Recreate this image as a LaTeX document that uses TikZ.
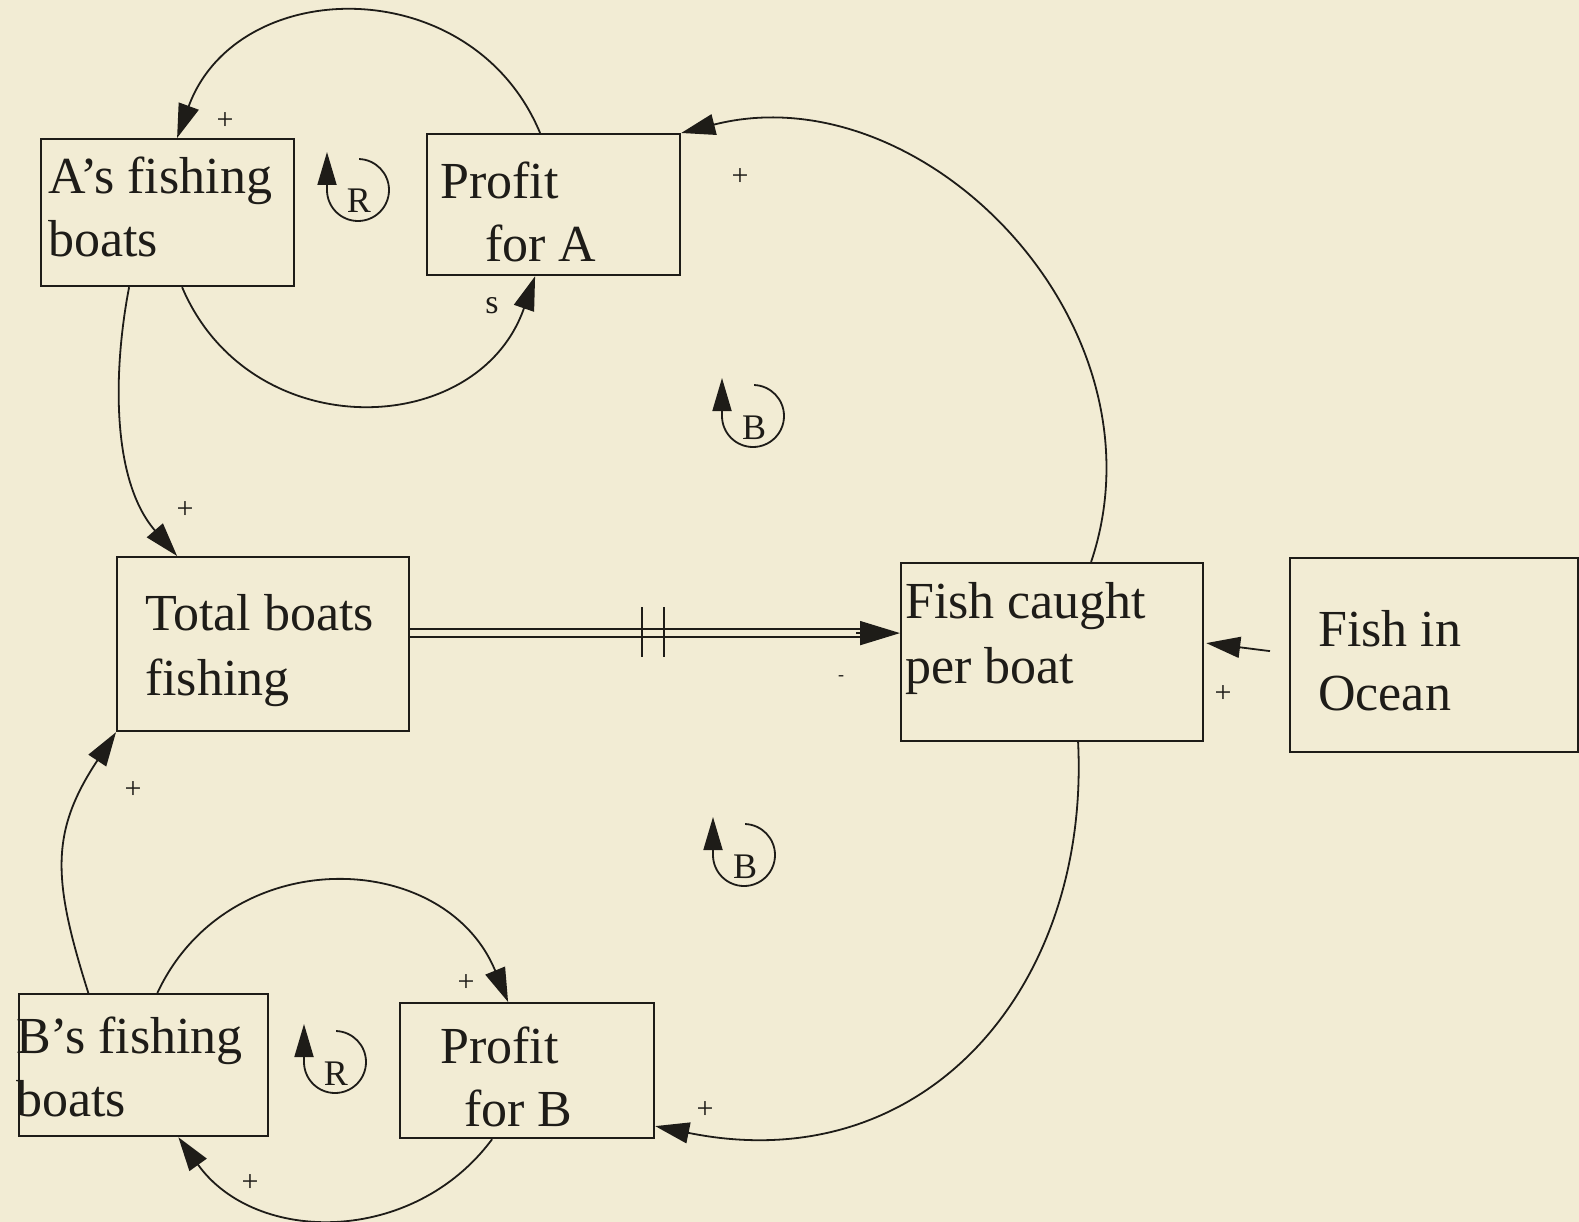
\documentclass[tikz,border=0pt]{standalone}
\usepackage{fontspec}
\setmainfont{Liberation Serif}
\usetikzlibrary{arrows.meta}
\definecolor{paper}{RGB}{242,236,212}
\definecolor{ink}{RGB}{30,28,24}
\begin{document}
\begin{tikzpicture}[x=1pt,y=-1pt,
  box/.style={draw=ink, line width=2.2pt, inner sep=0pt, anchor=north west},
  txt/.style={anchor=north west, inner sep=0pt, align=left, text=ink, font=\fontsize{52}{63.5}\selectfont},
  txtw/.style={txt, font=\fontsize{52}{65}\selectfont},
  conn/.style={draw=ink, line width=1.8pt, -{Triangle[length=34pt,width=21pt]}},
  pol/.style={text=ink, font=\fontsize{30}{30}\selectfont, inner sep=0pt},
  looplbl/.style={text=ink, font=\fontsize{36}{36}\selectfont, inner sep=0pt},
  loopsym/.pic={
    \draw[ink, line width=1.8pt] (-31,0) arc[start angle=180, end angle=-88, radius=31];
    \draw[ink, line width=1.8pt, -{Triangle[length=33pt,width=19pt]}] (-31,1) -- (-31,-38);
    \node[looplbl, anchor=base] (lbl) at (1,23) {#1};
  }
]
\fill[paper] (0,0) rectangle (1579,1222);
\useasboundingbox (0,0) rectangle (1579,1222);

% boxes
\node[box, minimum width=253pt, minimum height=147pt] (ab) at (40,138) {};
\node[box, minimum width=253pt, minimum height=141pt] (pa) at (426,133) {};
\node[box, minimum width=292pt, minimum height=174pt] (tb) at (116,556) {};
\node[box, minimum width=302pt, minimum height=178pt] (fc) at (900,562) {};
\node[box, minimum width=288pt, minimum height=194pt] (fo) at (1289,557) {};
\node[box, minimum width=248.5pt, minimum height=142pt] (bb) at (18,993) {};
\node[box, minimum width=254pt, minimum height=135pt] (pb) at (399,1002) {};

% texts
\node[txt] (abt) at (48,156.5) {A’s fishing\\boats};
\node[txt] (pat) at (440,161.5) {Profit\\\hspace*{45pt}for A};
\node[txtw] (tbt) at (145,594.5) {Total boats\\fishing};
\node[txtw] (fct) at (905,582.5) {Fish caught\\per boat};
\node[txt] (fot) at (1318,610.5) {Fish in\\Ocean};
\node[txt] (bbt) at (16,1016.5) {B’s fishing\\boats};
\node[txt] (pbt) at (440,1026.5) {Profit\\\hspace*{24pt}for B};

% connectors
\draw[conn] ([xshift=-13.5pt]pa.north) .. controls +(-68,-163) and +(60,-164) .. ([xshift=9.5pt]ab.north);
\draw[conn] ([xshift=14.5pt]ab.south) .. controls +(68,160) and +(-57,164) .. ([xshift=-18.5pt]pa.south);
\draw[conn] ([xshift=-38.5pt]ab.south) .. controls +(-16,83) and +(-66,-76) .. ([xshift=-86pt]tb.north);
\draw[ink, line width=2pt, double=paper, double distance=6pt, shorten >=40pt] ([yshift=11pt]tb.east) -- ([yshift=19pt]fc.west);
\draw[draw=ink, line width=1.8pt, -{Triangle[length=40pt,width=24pt]}] ([xshift=-44pt,yshift=19pt]fc.west) -- ([yshift=19pt]fc.west);
\draw[ink, line width=1.8pt] (642,607) -- (642,657);
\draw[ink, line width=1.8pt] (664,607) -- (664,657);
\draw[conn] ([xshift=39pt]fc.north) .. controls +(80,-238) and +(242,-62) .. (pa.north east);
\draw[conn] ([xshift=-19pt,yshift=4pt]fo.west) -- ([xshift=2pt,yshift=9pt]fc.east);
\draw[conn] ([xshift=26pt]fc.south) .. controls +(12,245) and +(270,55) .. ([yshift=-55.5pt]pb.east);
\draw[conn] ([xshift=14pt]bb.north) .. controls +(70.6,-151.4) and +(-63.6,-154.4) .. ([xshift=-19pt]pb.north);
\draw[conn] ([xshift=-35pt]pb.south) .. controls +(-79,106.4) and +(77.1,107.7) .. ([xshift=35pt]bb.south);
\draw[conn] ([xshift=-55pt]bb.north) .. controls +(-36,-114) and +(-66,100) .. (tb.south west);

% polarity labels
\node[pol] (p1) at (225,121) {+};
\node[pol] (p2) at (740,177) {+};
\node[pol, font=\fontsize{34}{34}\selectfont] (s1) at (492,306) {s};
\node[pol] (p3) at (185,510) {+};
\node[pol, font=\fontsize{18}{18}\selectfont] (m1) at (841,678) {-};
\node[pol] (p4) at (1223,694) {+};
\node[pol] (p5) at (466,983) {+};
\node[pol] (p6) at (705,1110) {+};
\node[pol] (p7) at (250,1183) {+};
\node[pol] (p8) at (133,790) {+};

% loop symbols
\pic (lra) at (358,190) {loopsym=R};
\pic (lrb) at (335,1062) {loopsym=R};
\pic (lba) at (753,416) {loopsym=B};
\pic (lbb) at (744,855) {loopsym=B};
\end{tikzpicture}
\end{document}
